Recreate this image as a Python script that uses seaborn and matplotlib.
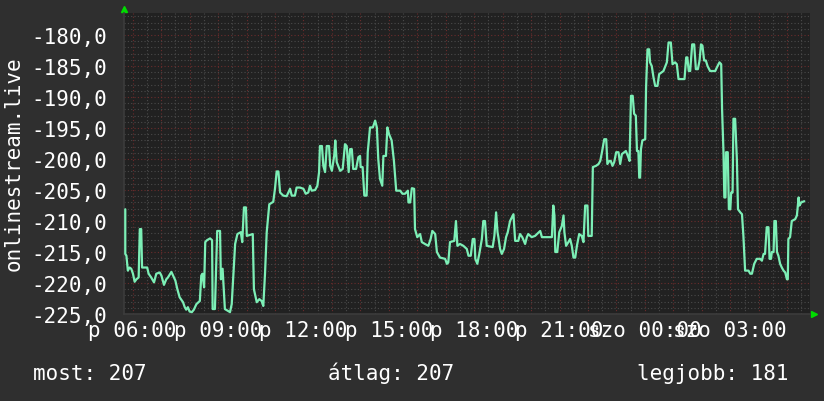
import numpy as np
import pandas as pd
import seaborn as sns
import matplotlib
matplotlib.use('Agg')
from matplotlib import pyplot as plt
from matplotlib.ticker import MultipleLocator, FixedLocator


# time in hours since friday 00:00
HOURS = [
    5.74, 5.74, 5.78, 5.83, 5.89, 5.95, 6.01, 6.07, 6.13, 6.21, 6.25, 6.30, 6.33, 6.51, 6.56, 6.65,
    6.75, 6.83, 6.95, 7.01, 7.10, 7.18, 7.24, 7.36, 7.42, 7.50, 7.57, 7.65, 7.77, 7.83, 7.88, 7.94,
    8.00, 8.08, 8.15, 8.24, 8.36, 8.41, 8.45, 8.51, 8.55, 8.61, 8.72, 8.79, 8.81, 8.89, 8.97, 9.07,
    9.10, 9.16, 9.24, 9.42, 9.48, 9.60, 9.68, 9.80, 9.85, 9.91, 9.98, 10.01, 10.22, 10.26, 10.36, 10.45,
    10.53, 10.59, 10.65, 10.71, 10.80, 10.94, 11.00, 11.06, 11.12, 11.18, 11.29, 11.41, 11.53, 11.59, 11.70, 11.76,
    11.88, 12.00, 12.08, 12.17, 12.23, 12.29, 12.41, 12.49, 12.55, 12.58, 12.65, 12.70, 12.76, 12.82, 12.90, 12.94,
    13.00, 13.08, 13.12, 13.17, 13.29, 13.38, 13.46, 13.52, 13.59, 13.64, 13.70, 13.75, 13.85, 13.93, 13.99, 14.01,
    14.08, 14.14, 14.22, 14.26, 14.34, 14.44, 14.52, 14.58, 14.63, 14.69, 14.77, 14.81, 14.90, 14.95, 15.01, 15.10,
    15.18, 15.26, 15.40, 15.48, 15.57, 15.67, 15.69, 15.75, 15.81, 15.89, 15.92, 16.00, 16.10, 16.16, 16.27, 16.39,
    16.47, 16.53, 16.63, 16.69, 16.80, 16.98, 17.04, 17.09, 17.15, 17.30, 17.36, 17.41, 17.50, 17.62, 17.74, 17.80,
    17.88, 17.95, 18.01, 18.04, 18.11, 18.18, 18.27, 18.32, 18.38, 18.44, 18.65, 18.71, 18.77, 18.82, 18.85, 18.91,
    18.97, 19.05, 19.12, 19.18, 19.26, 19.38, 19.44, 19.55, 19.61, 19.69, 19.79, 19.85, 19.90, 20.02, 20.14, 20.32,
    20.38, 20.73, 20.78, 20.82, 20.85, 20.92, 20.99, 21.08, 21.14, 21.17, 21.23, 21.31, 21.37, 21.43, 21.49, 21.55,
    21.61, 21.69, 21.78, 21.84, 21.90, 21.98, 22.01, 22.13, 22.17, 22.28, 22.37, 22.43, 22.49, 22.57, 22.64, 22.68,
    22.75, 22.80, 22.86, 22.92, 22.99, 23.07, 23.13, 23.19, 23.33, 23.40, 23.46, 23.51, 23.57, 23.62, 23.68, 23.72,
    23.77, 23.80, 23.83, 23.86, 23.91, 24.01, 24.04, 24.09, 24.15, 24.18, 24.24, 24.30, 24.36, 24.44, 24.50, 24.65,
    24.77, 24.83, 24.91, 24.97, 25.06, 25.12, 25.18, 25.39, 25.45, 25.49, 25.54, 25.59, 25.66, 25.73, 25.79, 25.86,
    25.92, 25.97, 26.02, 26.08, 26.14, 26.20, 26.29, 26.47, 26.53, 26.62, 26.68, 26.71, 26.76, 26.79, 26.83, 26.85,
    26.91, 26.95, 27.00, 27.03, 27.08, 27.11, 27.17, 27.23, 27.27, 27.35, 27.41, 27.46, 27.52, 27.64, 27.70, 27.76,
    27.84, 27.93, 28.05, 28.11, 28.17, 28.22, 28.28, 28.34, 28.38, 28.43, 28.46, 28.52, 28.55, 28.60, 28.64, 28.69,
    28.75, 28.81, 28.87, 28.93, 28.99, 29.02, 29.04, 29.10, 29.16, 29.28, 29.34, 29.40, 29.43, 29.49, 29.60,
]

VALUES = [
    -208.1, -215.3, -215.6, -218.0, -217.5, -217.7, -218.5, -219.8, -219.4, -219.1, -211.3, -211.3, -217.5, -217.5, -218.5, -219.1,
    -219.9, -218.5, -218.3, -218.8, -220.3, -219.4, -219.1, -218.2, -218.8, -219.6, -221.0, -222.3, -223.1, -223.9, -224.3, -223.9,
    -224.6, -224.7, -224.3, -223.4, -222.9, -218.8, -218.5, -220.7, -213.4, -213.1, -212.8, -213.1, -224.2, -224.2, -211.6, -211.6,
    -219.4, -217.7, -224.2, -224.7, -223.4, -213.7, -212.1, -211.8, -213.4, -207.8, -207.8, -212.4, -212.1, -221.0, -223.1, -222.6,
    -222.9, -223.7, -218.5, -211.8, -207.3, -206.9, -204.8, -202.0, -202.0, -205.4, -205.9, -206.0, -204.8, -205.9, -205.9, -204.6,
    -204.6, -204.8, -205.6, -205.4, -204.3, -205.1, -205.0, -204.3, -202.1, -197.9, -197.9, -201.1, -202.1, -197.9, -197.9, -201.1,
    -201.9, -199.5, -197.0, -200.5, -201.9, -201.6, -197.6, -197.9, -202.1, -198.4, -198.4, -201.6, -201.6, -199.7, -199.5, -201.3,
    -201.3, -205.9, -205.9, -198.9, -194.9, -194.9, -193.8, -194.9, -200.0, -203.2, -204.3, -199.5, -199.5, -194.9, -196.0, -197.0,
    -200.3, -205.1, -205.1, -205.6, -205.6, -205.1, -207.0, -207.0, -204.7, -204.8, -211.3, -212.6, -212.1, -213.4, -213.7, -214.0,
    -212.9, -211.6, -212.1, -215.0, -215.9, -216.1, -216.9, -216.7, -213.4, -213.2, -210.0, -214.0, -213.7, -214.0, -214.5, -215.6,
    -215.6, -212.9, -212.9, -216.1, -216.9, -215.3, -212.9, -210.0, -210.0, -214.0, -214.2, -212.4, -208.6, -211.8, -212.6, -214.5,
    -215.3, -214.5, -212.6, -211.8, -210.0, -208.9, -213.2, -213.2, -212.1, -212.6, -213.7, -212.6, -212.1, -212.6, -212.4, -211.6,
    -212.6, -212.6, -207.5, -209.1, -215.0, -215.0, -211.8, -210.8, -209.1, -211.8, -214.0, -213.4, -212.9, -214.0, -215.9, -215.9,
    -214.0, -212.1, -212.4, -213.4, -207.5, -207.5, -212.4, -212.4, -201.3, -201.1, -200.8, -200.3, -198.9, -196.8, -196.8, -200.8,
    -200.3, -200.3, -201.1, -200.5, -198.9, -198.9, -200.8, -199.2, -198.7, -199.5, -200.3, -189.8, -189.8, -192.7, -193.0, -198.7,
    -198.7, -203.0, -203.0, -198.4, -197.0, -196.8, -188.4, -182.3, -182.3, -184.4, -185.0, -186.8, -188.2, -188.2, -186.3, -185.8,
    -184.4, -181.2, -181.2, -184.7, -184.4, -184.7, -187.1, -187.1, -183.6, -183.6, -185.8, -185.8, -181.5, -181.5, -185.5, -185.5,
    -184.1, -181.5, -181.7, -184.1, -184.1, -185.0, -185.8, -185.8, -185.2, -184.4, -184.7, -191.9, -198.9, -206.2, -206.2, -198.9,
    -198.9, -208.1, -208.1, -205.4, -205.4, -193.5, -193.5, -200.0, -208.1, -208.6, -208.9, -212.4, -218.0, -218.0, -218.5, -218.5,
    -216.9, -216.1, -216.1, -216.4, -215.3, -215.3, -211.0, -211.0, -216.1, -216.1, -215.0, -215.0, -210.0, -210.0, -215.0, -215.6,
    -216.9, -217.5, -218.0, -218.3, -219.4, -219.4, -212.9, -212.6, -210.0, -209.7, -209.1, -206.2, -207.5, -207.0, -206.8,
]

XTICKS = [6, 9, 12, 15, 18, 21, 24, 27]
XTICK_LABELS = ['p 06:00', 'p 09:00', 'p 12:00', 'p 15:00', 'p 18:00', 'p 21:00', 'szo 00:00', 'szo 03:00']
YTICKS = [-225, -220, -215, -210, -205, -200, -195, -190, -185, -180]

LEGEND_LABELS = ['most', 'átlag', 'legjobb']
LEGEND_VALUES = [207, 207, 181]

BG = '#2f2f2f'
PLOT_BG = '#212121'
LINE = '#7cefb6'
RED_GRID = '#6a2c2c'
GRAY_GRID = '#4a4a4a'
FS = 15


def main():
    sns.set_theme(style='dark', rc={
        'figure.facecolor': BG,
        'axes.facecolor': PLOT_BG,
        'text.color': 'white',
        'xtick.color': 'white',
        'ytick.color': 'white',
    })
    plt.rcParams['font.family'] = ['DejaVu Sans Mono', 'DejaVu Sans']

    df = pd.DataFrame({'ora': HOURS, 'ertek': VALUES})

    fig = plt.figure(figsize=(8.24, 4.02), dpi=100)
    ax = fig.add_axes([0.151, 0.2164, 0.832, 0.7486])

    sns.lineplot(data=df, x='ora', y='ertek', estimator=None, sort=False,
                 color=LINE, lw=1.6, ax=ax, zorder=5)

    ax.set_xlim(5.71, 29.80)
    ax.set_ylim(-225, -176.45)

    # red grid every hour / every 5, grey dotted every half hour / every 1
    ax.xaxis.set_major_locator(MultipleLocator(1))
    ax.xaxis.set_minor_locator(MultipleLocator(0.5))
    ax.yaxis.set_major_locator(FixedLocator(YTICKS))
    ax.yaxis.set_minor_locator(MultipleLocator(1))
    ax.grid(which='minor', color=GRAY_GRID, lw=0.8, ls=(0, (1, 2)))
    ax.grid(which='major', color=RED_GRID, lw=0.8, ls=(0, (1, 2)))

    hour_ticks = ax.get_xticks()
    labels = []
    for h in hour_ticks:
        labels.append(XTICK_LABELS[XTICKS.index(int(h))] if int(h) in XTICKS and h == int(h) else '')
    ax.set_xticks(hour_ticks)
    ax.set_xticklabels(labels, fontsize=FS)
    ax.set_yticks(YTICKS)
    ax.set_yticklabels([f'{v:.1f}'.replace('.', ',') for v in YTICKS], fontsize=FS)
    ax.set_xlim(5.71, 29.80)

    ax.tick_params(axis='x', which='major', length=2, color=RED_GRID, pad=2.5)
    ax.tick_params(axis='y', which='major', length=2, color='#666666', pad=10.5)
    ax.tick_params(which='minor', length=0)
    ax.set_xlabel('')
    ax.set_ylabel('')

    for side in ['top', 'right']:
        ax.spines[side].set_visible(False)
    for side in ['left', 'bottom']:
        ax.spines[side].set_color('#3c3c3c')
        ax.spines[side].set_linewidth(1.2)

    # green arrow heads at the axis ends
    ax.plot([0], [1.013], marker='^', color='#00dd00', ms=5, transform=ax.transAxes, clip_on=False)
    ax.plot([1.006], [0], marker='>', color='#00dd00', ms=5, transform=ax.transAxes, clip_on=False)

    fig.text(14 / 824, 0.594, 'onlinestream.live', rotation=90, ha='center', va='center', fontsize=FS)

    xs = [33 / 824, 328 / 824, 637 / 824]
    for x, lab, val in zip(xs, LEGEND_LABELS, LEGEND_VALUES):
        fig.text(x, 0.0547, f'{lab}: {val}', ha='left', va='baseline', fontsize=FS)

    fig.savefig('out.png', dpi=100, facecolor=BG)
    plt.close(fig)


if __name__ == '__main__':
    main()
